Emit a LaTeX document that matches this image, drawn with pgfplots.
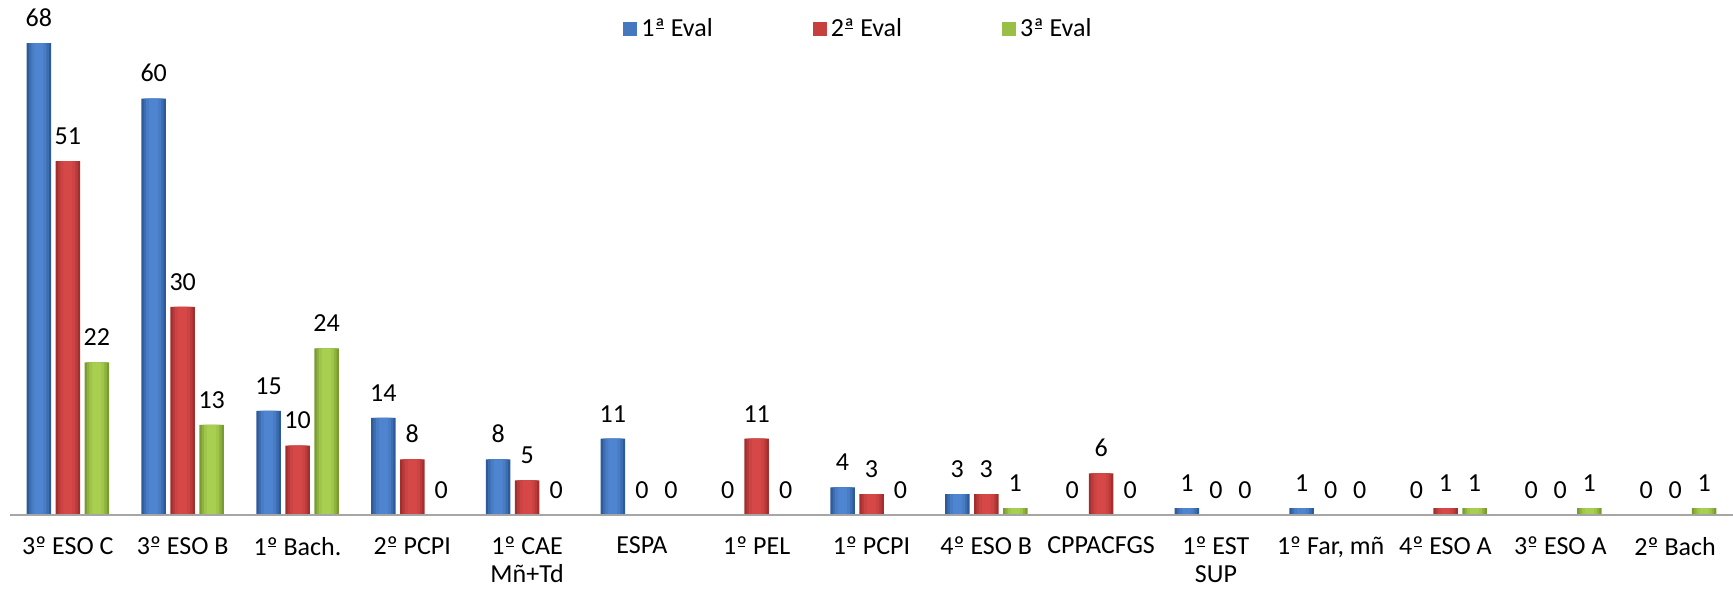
\documentclass[border=0pt]{standalone}
\usepackage{pgfplots}
\pgfplotsset{compat=1.18}
\usepackage{pgfplotstable}
\usepackage{fontspec}
\setmainfont{Carlito}

\definecolor{bluemid}{HTML}{4F85D0}
\definecolor{blueedge}{HTML}{2D5A98}
\definecolor{redmid}{HTML}{D64848}
\definecolor{rededge}{HTML}{A32E2E}
\definecolor{greenmid}{HTML}{A8CF50}
\definecolor{greenedge}{HTML}{7A9B32}

% ordinal signs with the bar under them, as in Calibri
\newcommand\oo{\rlap{\kern0.05em\rule[0.3em]{0.3em}{0.055em}}º}
\newcommand\oa{\rlap{\kern0.05em\rule[0.3em]{0.3em}{0.055em}}ª}

% evaluaciones por grupo
\pgfplotstableread{
x  e1  e2  e3
0  68  51  22
1  60  30  13
2  15  10  24
3  14   8   0
4   8   5   0
5  11   0   0
6   0  11   0
7   4   3   0
8   3   3   1
9   0   6   0
10  1   0   0
11  1   0   0
12  0   1   1
13  0   0   1
14  0   0   1
}\evals

% one series drawn as nested bars, dark at the edges, light in the middle
\newcommand\shadedbars[4]{%
  \addplot[forget plot, fill=#3, bar width=12.25pt, bar shift=#2] table[x=x, y=#1] {\evals};
  \addplot[forget plot, fill=#3!55!#4, bar width=10pt, bar shift=#2] table[x=x, y=#1] {\evals};
  \addplot[forget plot, fill=#3!20!#4, bar width=7.5pt, bar shift=#2] table[x=x, y=#1] {\evals};
  \addplot[forget plot, fill=#4, bar width=4.5pt, bar shift=#2, nodes near coords] table[x=x, y=#1] {\evals};
}

\begin{document}
\begin{tikzpicture}
  \begin{axis}[
      scale only axis,
      width=861pt, height=242.9pt,
      xmin=-0.5, xmax=14.5,
      ymin=0, ymax=70,
      ybar,
      axis on top,
      every axis plot/.append style={draw=none},
      axis x line*=bottom,
      axis y line=none,
      x axis line style={draw=black!35, line width=1.1pt, -},
      major tick length=0pt,
      xtick=data,
      xticklabels={3\oo{} ESO C, 3\oo{} ESO B, 1\oo{} Bach., 2\oo{} PCPI, 1\oo{} CAE\\Mñ+Td,
        ESPA, 1\oo{} PEL, 1\oo{} PCPI, 4\oo{} ESO B, CPPACFGS, 1\oo{} EST\\SUP,
        {1\oo{} Far, mñ}, 4\oo{} ESO A, 3\oo{} ESO A, 2\oo{} Bach},
      xticklabel style={font=\fontsize{13}{14}\selectfont, align=center, yshift=-7.5pt},
      /pgf/number format/assume math mode=true,
      every node near coord/.append style={font=\fontsize{13}{14}\selectfont, yshift=4.7pt, black},
      legend style={at={(0.493,1.0)}, anchor=center, draw=none, fill=none,
        legend columns=3, font=\fontsize{13}{14}\selectfont,
        /tikz/every even column/.append style={column sep=48pt}},
      legend image code/.code={\fill[#1] (0pt,-3.5pt) rectangle (7pt,3.5pt);},
      clip=false,
    ]
    \shadedbars{e1}{-14.5pt}{blueedge}{bluemid}
    \shadedbars{e2}{0pt}{rededge}{redmid}
    \shadedbars{e3}{14.5pt}{greenedge}{greenmid}
    \addlegendimage{fill=blueedge!30!bluemid}
    \addlegendentry{1\oa{} Eval}
    \addlegendimage{fill=rededge!30!redmid}
    \addlegendentry{2\oa{} Eval}
    \addlegendimage{fill=greenedge!30!greenmid}
    \addlegendentry{3\oa{} Eval}
  \end{axis}
  \pgfresetboundingbox
  \path[use as bounding box] (-5.25pt,-43.5pt) rectangle (861.25pt,257.5pt);
\end{tikzpicture}
\end{document}
